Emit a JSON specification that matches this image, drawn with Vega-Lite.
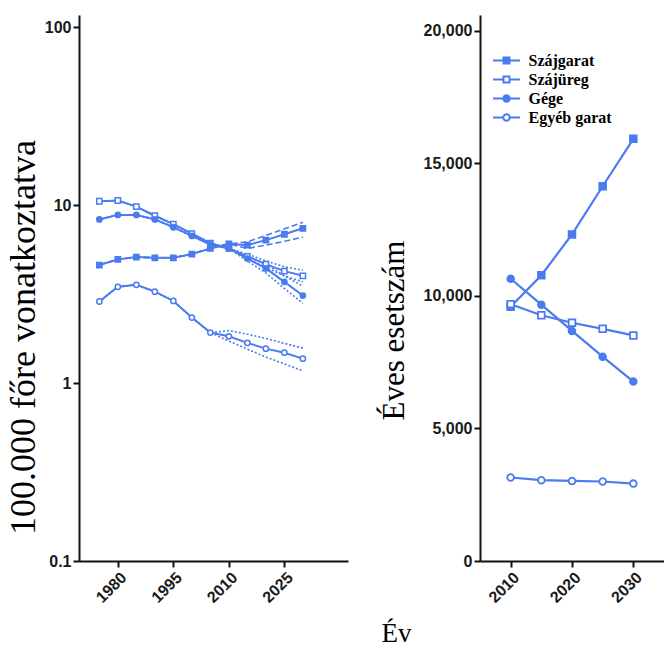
{
  "$schema": "https://vega.github.io/schema/vega-lite/v6.json",
  "background": "white",
  "autosize": {"type": "pad"},
  "padding": {"left": 5, "top": 15, "right": 0, "bottom": 0},
  "title": {"text": "Év", "orient": "bottom", "anchor": "middle", "font": "Liberation Serif", "fontSize": 27, "fontWeight": "normal", "color": "black", "dx": 62, "offset": 16},
  "config": {
    "view": {"stroke": null},
    "axis": {
      "grid": false,
      "domainColor": "#111111",
      "domainWidth": 2,
      "tickColor": "#111111",
      "tickWidth": 2,
      "tickSize": 6,
      "labelFont": "Liberation Sans",
      "labelFontWeight": "bold",
      "labelFontSize": 16,
      "labelColor": "#1a1a1a",
      "labelPadding": 2,
      "titleFont": "Liberation Serif",
      "titleFontWeight": "normal",
      "titleColor": "black"
    },
    "legend": {
      "labelFont": "Liberation Serif",
      "labelFontWeight": "bold",
      "labelFontSize": 16,
      "labelColor": "black",
      "symbolSize": 100,
      "padding": 0,
      "rowPadding": 3
    }
  },
  "datasets": {
    "rates": [
      {"series": "Szájgarat", "year": 1975, "value": 4.6, "lo": 4.6, "hi": 4.6},
      {"series": "Szájgarat", "year": 1980, "value": 4.95, "lo": 4.95, "hi": 4.95},
      {"series": "Szájgarat", "year": 1985, "value": 5.1, "lo": 5.1, "hi": 5.1},
      {"series": "Szájgarat", "year": 1990, "value": 5.05, "lo": 5.05, "hi": 5.05},
      {"series": "Szájgarat", "year": 1995, "value": 5.05, "lo": 5.05, "hi": 5.05},
      {"series": "Szájgarat", "year": 2000, "value": 5.3, "lo": 5.3, "hi": 5.3},
      {"series": "Szájgarat", "year": 2005, "value": 5.7, "lo": 5.7, "hi": 5.7},
      {"series": "Szájgarat", "year": 2010, "value": 6.05, "lo": 6.05, "hi": 6.05},
      {"series": "Szájgarat", "year": 2015, "value": 5.95, "lo": 5.7, "hi": 6.2},
      {"series": "Szájgarat", "year": 2020, "value": 6.35, "lo": 5.95, "hi": 6.75},
      {"series": "Szájgarat", "year": 2025, "value": 6.85, "lo": 6.25, "hi": 7.35},
      {"series": "Szájgarat", "year": 2030, "value": 7.4, "lo": 6.6, "hi": 8.0},
      {"series": "Szájüreg", "year": 1975, "value": 10.5, "lo": 10.5, "hi": 10.5},
      {"series": "Szájüreg", "year": 1980, "value": 10.6, "lo": 10.6, "hi": 10.6},
      {"series": "Szájüreg", "year": 1985, "value": 9.8, "lo": 9.8, "hi": 9.8},
      {"series": "Szájüreg", "year": 1990, "value": 8.7, "lo": 8.7, "hi": 8.7},
      {"series": "Szájüreg", "year": 1995, "value": 7.8, "lo": 7.8, "hi": 7.8},
      {"series": "Szájüreg", "year": 2000, "value": 6.9, "lo": 6.9, "hi": 6.9},
      {"series": "Szájüreg", "year": 2005, "value": 6.1, "lo": 6.1, "hi": 6.1},
      {"series": "Szájüreg", "year": 2010, "value": 5.7, "lo": 5.7, "hi": 5.7},
      {"series": "Szájüreg", "year": 2015, "value": 5.15, "lo": 5.0, "hi": 5.3},
      {"series": "Szájüreg", "year": 2020, "value": 4.65, "lo": 4.45, "hi": 4.85},
      {"series": "Szájüreg", "year": 2025, "value": 4.25, "lo": 4.0, "hi": 4.5},
      {"series": "Szájüreg", "year": 2030, "value": 4.0, "lo": 3.7, "hi": 4.3},
      {"series": "Gége", "year": 1975, "value": 8.3, "lo": 8.3, "hi": 8.3},
      {"series": "Gége", "year": 1980, "value": 8.8, "lo": 8.8, "hi": 8.8},
      {"series": "Gége", "year": 1985, "value": 8.8, "lo": 8.8, "hi": 8.8},
      {"series": "Gége", "year": 1990, "value": 8.3, "lo": 8.3, "hi": 8.3},
      {"series": "Gége", "year": 1995, "value": 7.5, "lo": 7.5, "hi": 7.5},
      {"series": "Gége", "year": 2000, "value": 6.7, "lo": 6.7, "hi": 6.7},
      {"series": "Gége", "year": 2005, "value": 6.0, "lo": 6.0, "hi": 6.0},
      {"series": "Gége", "year": 2010, "value": 5.7, "lo": 5.7, "hi": 5.7},
      {"series": "Gége", "year": 2015, "value": 5.0, "lo": 4.85, "hi": 5.15},
      {"series": "Gége", "year": 2020, "value": 4.4, "lo": 4.15, "hi": 4.65},
      {"series": "Gége", "year": 2025, "value": 3.7, "lo": 3.4, "hi": 4.0},
      {"series": "Gége", "year": 2030, "value": 3.1, "lo": 2.8, "hi": 3.5},
      {"series": "Egyéb garat", "year": 1975, "value": 2.87, "lo": 2.87, "hi": 2.87},
      {"series": "Egyéb garat", "year": 1980, "value": 3.47, "lo": 3.47, "hi": 3.47},
      {"series": "Egyéb garat", "year": 1985, "value": 3.56, "lo": 3.56, "hi": 3.56},
      {"series": "Egyéb garat", "year": 1990, "value": 3.26, "lo": 3.26, "hi": 3.26},
      {"series": "Egyéb garat", "year": 1995, "value": 2.89, "lo": 2.89, "hi": 2.89},
      {"series": "Egyéb garat", "year": 2000, "value": 2.33, "lo": 2.33, "hi": 2.33},
      {"series": "Egyéb garat", "year": 2005, "value": 1.92, "lo": 1.92, "hi": 1.92},
      {"series": "Egyéb garat", "year": 2010, "value": 1.83, "lo": 1.72, "hi": 1.97},
      {"series": "Egyéb garat", "year": 2015, "value": 1.68, "lo": 1.55, "hi": 1.88},
      {"series": "Egyéb garat", "year": 2020, "value": 1.56, "lo": 1.4, "hi": 1.78},
      {"series": "Egyéb garat", "year": 2025, "value": 1.48, "lo": 1.28, "hi": 1.67},
      {"series": "Egyéb garat", "year": 2030, "value": 1.37, "lo": 1.17, "hi": 1.57}
    ],
    "counts": [
      {"series": "Szájgarat", "year": 2010, "count": 9590},
      {"series": "Szájgarat", "year": 2015, "count": 10780},
      {"series": "Szájgarat", "year": 2020, "count": 12320},
      {"series": "Szájgarat", "year": 2025, "count": 14140},
      {"series": "Szájgarat", "year": 2030, "count": 15930},
      {"series": "Szájüreg", "year": 2010, "count": 9690},
      {"series": "Szájüreg", "year": 2015, "count": 9270},
      {"series": "Szájüreg", "year": 2020, "count": 8990},
      {"series": "Szájüreg", "year": 2025, "count": 8760},
      {"series": "Szájüreg", "year": 2030, "count": 8510},
      {"series": "Gége", "year": 2010, "count": 10650},
      {"series": "Gége", "year": 2015, "count": 9670},
      {"series": "Gége", "year": 2020, "count": 8680},
      {"series": "Gége", "year": 2025, "count": 7710},
      {"series": "Gége", "year": 2030, "count": 6770},
      {"series": "Egyéb garat", "year": 2010, "count": 3150},
      {"series": "Egyéb garat", "year": 2015, "count": 3050},
      {"series": "Egyéb garat", "year": 2020, "count": 3020},
      {"series": "Egyéb garat", "year": 2025, "count": 3000},
      {"series": "Egyéb garat", "year": 2030, "count": 2920}
    ]
  },
  "spacing": 30,
  "resolve": {
    "scale": {"color": "independent", "strokeDash": "independent"},
    "legend": {"color": "independent"}
  },
  "hconcat": [
    {
      "width": 269,
      "height": 546,
      "data": {"name": "rates"},
      "encoding": {
        "x": {
          "field": "year", "type": "quantitative",
          "scale": {"domain": [1969.5, 2042.2], "nice": false, "zero": false},
          "axis": {"title": null, "values": [1980, 1995, 2010, 2025], "format": "d", "labelAngle": -45}
        }
      },
      "layer": [
        {
          "mark": {"type": "line", "strokeWidth": 1.6, "color": "#4a7bef"},
          "encoding": {
            "y": {"field": "hi", "type": "quantitative", "scale": {"type": "log", "domain": [0.1, 116.8], "nice": false}},
            "strokeDash": {"field": "series", "type": "nominal", "scale": {"domain": ["Szájgarat", "Szájüreg", "Gége", "Egyéb garat"], "range": [[6, 3], [2, 2], [2, 2], [2, 2]]}, "legend": null}
          }
        },
        {
          "mark": {"type": "line", "strokeWidth": 1.6, "color": "#4a7bef"},
          "encoding": {
            "y": {"field": "lo", "type": "quantitative"},
            "strokeDash": {"field": "series", "type": "nominal", "legend": null}
          }
        },
        {
          "mark": {"type": "line", "strokeWidth": 2},
          "encoding": {
            "y": {
              "field": "value", "type": "quantitative",
              "axis": {"title": "100.000 főre vonatkoztatva", "titleFontSize": 36, "values": [0.1, 1, 10, 100], "format": "~g", "titleX": -37, "titleY": 322}
            },
            "color": {
              "field": "series", "type": "nominal",
              "scale": {"domain": ["Szájgarat", "Szájüreg", "Gége", "Egyéb garat"], "range": ["#4a7bef", "#4a7bef", "#4a7bef", "#4a7bef"]},
              "legend": {
                "title": null, "orient": "none", "legendX": 25.5, "legendY": 40, "labelOffset": 20.5,
                "encode": {
                  "symbols": {
                    "update": {
                      "shape": {"signal": "(datum.value === 'Szájgarat' || datum.value === 'Szájüreg') ? 'M-3.3,0H-0.55M0.55,0H3.3M-0.55,-0.55H0.55V0.55H-0.55Z' : 'M-3.3,0H-0.6M0.6,0H3.3M-0.6,0A0.6,0.6,0,1,1,0.6,0A0.6,0.6,0,1,1,-0.6,0Z'"},
                      "fill": {"signal": "(datum.value === 'Szájüreg' || datum.value === 'Egyéb garat') ? 'white' : '#4a7bef'"},
                      "stroke": {"value": "#4a7bef"},
                      "strokeWidth": {"value": 2},
                      "opacity": {"value": 1}
                    }
                  }
                }
              }
            }
          }
        },
        {
          "mark": {"type": "point", "filled": true, "size": 28, "stroke": "#4a7bef", "strokeWidth": 1.5, "opacity": 1},
          "encoding": {
            "y": {"field": "value", "type": "quantitative"},
            "shape": {"condition": {"test": "datum.series === 'Szájgarat' || datum.series === 'Szájüreg'", "value": "square"}, "value": "circle"},
            "fill": {"condition": {"test": "datum.series === 'Szájüreg' || datum.series === 'Egyéb garat'", "value": "white"}, "value": "#4a7bef"}
          }
        }
      ]
    },
    {
      "width": 184,
      "height": 546,
      "data": {"name": "counts"},
      "encoding": {
        "x": {
          "field": "year", "type": "quantitative",
          "scale": {"domain": [2005, 2035], "nice": false, "zero": false},
          "axis": {"title": null, "values": [2010, 2020, 2030], "format": "d", "labelAngle": -45}
        },
        "y": {
          "field": "count", "type": "quantitative",
          "scale": {"domain": [0, 20600], "nice": false},
          "axis": {"title": "Éves esetszám", "titleFontSize": 31, "values": [0, 5000, 10000, 15000, 20000], "format": ",.0f", "titleX": -70, "titleY": 315}
        }
      },
      "layer": [
        {
          "mark": {"type": "line", "strokeWidth": 2.2},
          "encoding": {
            "color": {
              "field": "series", "type": "nominal",
              "scale": {"domain": ["Szájgarat", "Szájüreg", "Gége", "Egyéb garat"], "range": ["#4a7bef", "#4a7bef", "#4a7bef", "#4a7bef"]},
              "legend": {
                "title": null, "orient": "none", "legendX": 18.5, "legendY": 37.5, "labelOffset": 14,
                "encode": {
                  "symbols": {
                    "update": {
                      "shape": {"signal": "(datum.value === 'Szájgarat' || datum.value === 'Szájüreg') ? 'M-2.7,0H-0.6M0.6,0H2.7M-0.6,-0.6H0.6V0.6H-0.6Z' : 'M-2.7,0H-0.65M0.65,0H2.7M-0.65,0A0.65,0.65,0,1,1,0.65,0A0.65,0.65,0,1,1,-0.65,0Z'"},
                      "fill": {"signal": "(datum.value === 'Szájüreg' || datum.value === 'Egyéb garat') ? 'white' : '#4a7bef'"},
                      "stroke": {"value": "#4a7bef"},
                      "strokeWidth": {"value": 2},
                      "opacity": {"value": 1}
                    }
                  }
                }
              }
            }
          }
        },
        {
          "mark": {"type": "point", "filled": true, "size": 45, "stroke": "#4a7bef", "strokeWidth": 1.8, "opacity": 1},
          "encoding": {
            "shape": {"condition": {"test": "datum.series === 'Szájgarat' || datum.series === 'Szájüreg'", "value": "square"}, "value": "circle"},
            "fill": {"condition": {"test": "datum.series === 'Szájüreg' || datum.series === 'Egyéb garat'", "value": "white"}, "value": "#4a7bef"}
          }
        }
      ]
    }
  ]
}
